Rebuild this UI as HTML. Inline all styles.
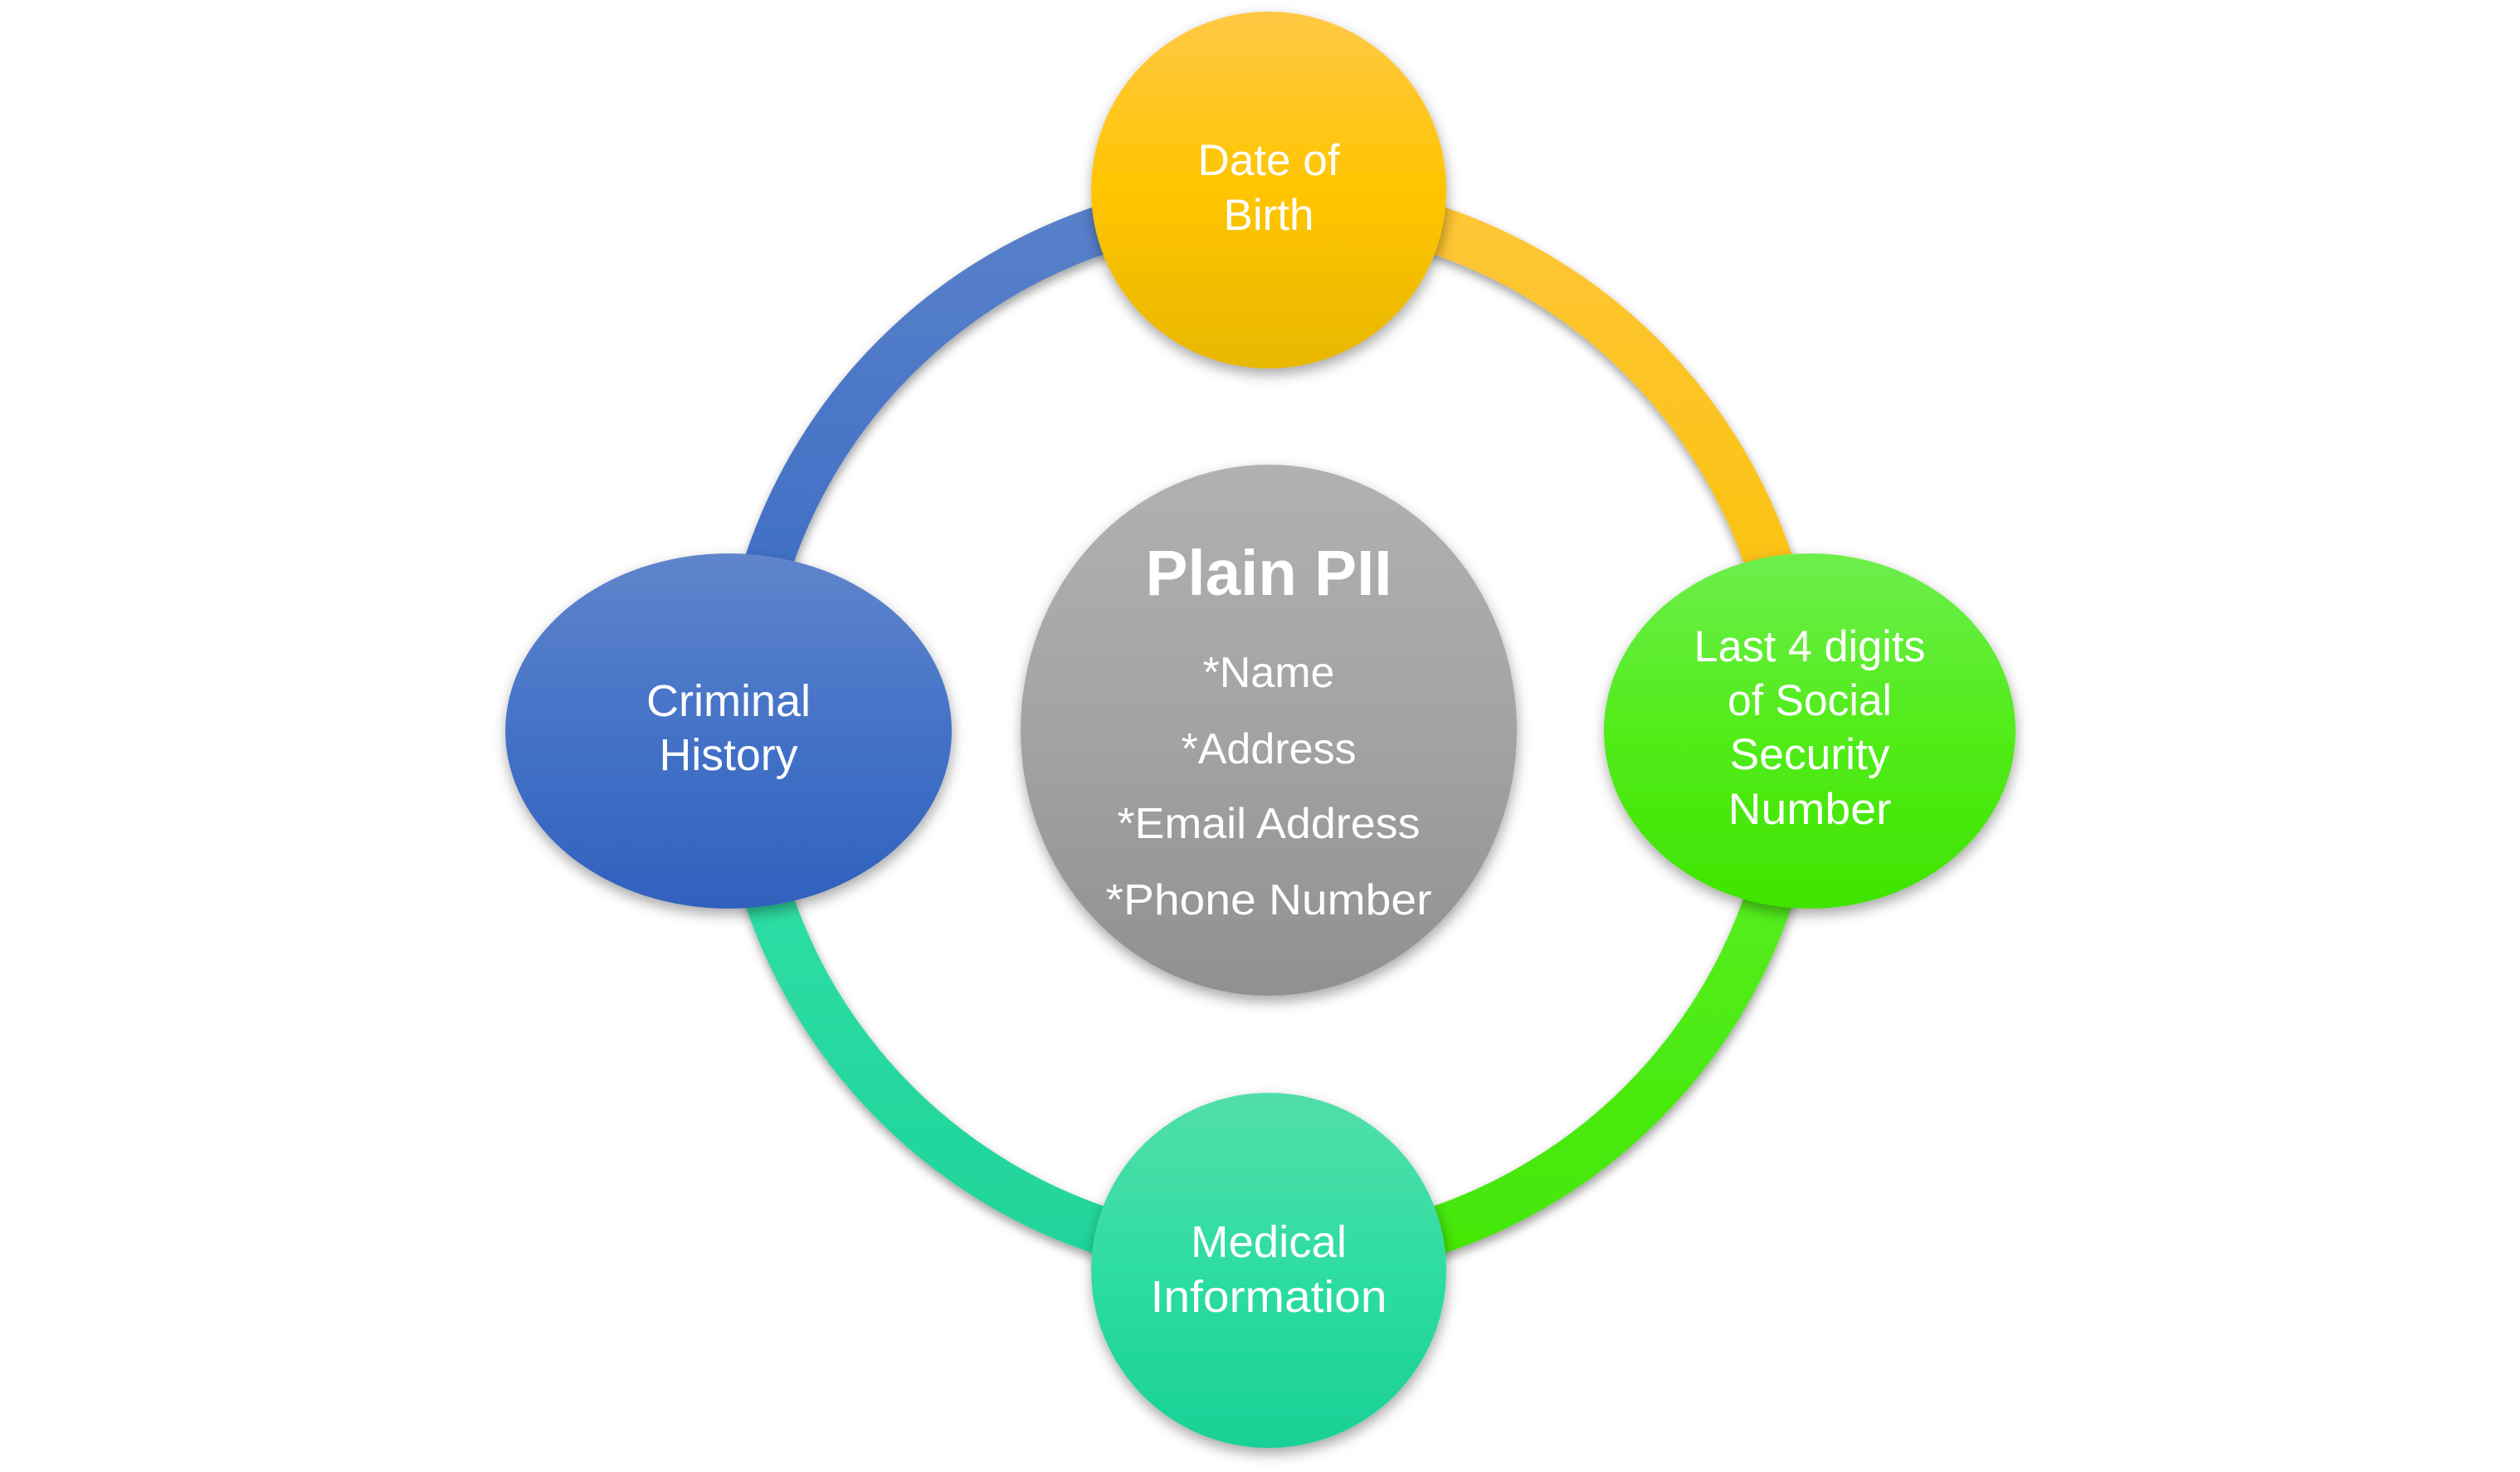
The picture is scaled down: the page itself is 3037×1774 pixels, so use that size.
<!DOCTYPE html>
<html>
<head>
<meta charset="utf-8">
<style>
  html, body { margin:0; padding:0; background:#ffffff; }
  body { width:3037px; height:1774px; overflow:hidden; }
  svg { display:block; }
  text { font-family: "Liberation Sans", Arial, sans-serif; fill:#ffffff; }
</style>
</head>
<body>
<svg width="3037" height="1774" viewBox="0 0 3037 1774" xmlns="http://www.w3.org/2000/svg">
  <defs>
    <filter id="sh" x="-20%" y="-20%" width="140%" height="140%">
      <feDropShadow dx="1" dy="6" stdDeviation="6" flood-color="#000000" flood-opacity="0.38"/>
    </filter>
    <filter id="shn" x="-20%" y="-20%" width="140%" height="140%">
      <feDropShadow dx="1" dy="7" stdDeviation="8" flood-color="#000000" flood-opacity="0.35"/>
    </filter>

    <!-- ring arc gradients -->
    <linearGradient id="gArcBlue" gradientUnits="userSpaceOnUse" x1="0" y1="215" x2="0" y2="880">
      <stop offset="0" stop-color="#5A82CA"/>
      <stop offset="1" stop-color="#3668C4"/>
    </linearGradient>
    <linearGradient id="gArcOrange" gradientUnits="userSpaceOnUse" x1="0" y1="215" x2="0" y2="880">
      <stop offset="0" stop-color="#FFC63A"/>
      <stop offset="1" stop-color="#F9C100"/>
    </linearGradient>
    <linearGradient id="gArcGreen" gradientUnits="userSpaceOnUse" x1="0" y1="880" x2="0" y2="1545">
      <stop offset="0" stop-color="#5CF02A"/>
      <stop offset="1" stop-color="#42E703"/>
    </linearGradient>
    <linearGradient id="gArcTeal" gradientUnits="userSpaceOnUse" x1="0" y1="880" x2="0" y2="1545">
      <stop offset="0" stop-color="#34E0A8"/>
      <stop offset="1" stop-color="#1ED49A"/>
    </linearGradient>

    <!-- node gradients -->
    <linearGradient id="gTop" x1="0" y1="0" x2="0" y2="1">
      <stop offset="0" stop-color="#FFC845"/>
      <stop offset="0.5" stop-color="#FFC500"/>
      <stop offset="1" stop-color="#E8B700"/>
    </linearGradient>
    <linearGradient id="gLeft" x1="0" y1="0" x2="0" y2="1">
      <stop offset="0" stop-color="#5F85CB"/>
      <stop offset="0.5" stop-color="#4472C7"/>
      <stop offset="1" stop-color="#2F61BD"/>
    </linearGradient>
    <linearGradient id="gRight" x1="0" y1="0" x2="0" y2="1">
      <stop offset="0" stop-color="#6DEE4C"/>
      <stop offset="0.5" stop-color="#52EC1A"/>
      <stop offset="1" stop-color="#3FE400"/>
    </linearGradient>
    <linearGradient id="gBottom" x1="0" y1="0" x2="0" y2="1">
      <stop offset="0" stop-color="#52DEA9"/>
      <stop offset="0.5" stop-color="#2EDDA2"/>
      <stop offset="1" stop-color="#19D095"/>
    </linearGradient>
    <linearGradient id="gCenter" x1="0" y1="0" x2="0" y2="1">
      <stop offset="0" stop-color="#B1B1B1"/>
      <stop offset="0.5" stop-color="#A3A3A3"/>
      <stop offset="1" stop-color="#909090"/>
    </linearGradient>
  </defs>

  <rect x="0" y="0" width="3037" height="1774" fill="#ffffff"/>

  <!-- Ring arcs: center (1529,880), R=636, width 58 -->
  <g fill="none" stroke-width="58" stroke-linecap="butt" filter="url(#sh)">
    <path d="M 893 880 A 636 636 0 0 1 1529 244" stroke="url(#gArcBlue)"/>
    <path d="M 1529 244 A 636 636 0 0 1 2165 880" stroke="url(#gArcOrange)"/>
    <path d="M 2165 880 A 636 636 0 0 1 1529 1516" stroke="url(#gArcGreen)"/>
    <path d="M 1529 1516 A 636 636 0 0 1 893 880" stroke="url(#gArcTeal)"/>
  </g>

  <!-- Center circle -->
  <ellipse cx="1529" cy="880" rx="299" ry="320" fill="url(#gCenter)" filter="url(#shn)"/>

  <!-- Nodes -->
  <ellipse cx="1529" cy="229" rx="214" ry="215" fill="url(#gTop)" filter="url(#shn)"/>
  <ellipse cx="878" cy="881" rx="269" ry="214" fill="url(#gLeft)" filter="url(#shn)"/>
  <ellipse cx="2181" cy="881" rx="248" ry="214" fill="url(#gRight)" filter="url(#shn)"/>
  <ellipse cx="1529" cy="1531" rx="214" ry="214" fill="url(#gBottom)" filter="url(#shn)"/>

  <!-- Top node text -->
  <g text-anchor="middle" font-size="53">
    <text x="1529" y="211">Date of</text>
    <text x="1529" y="277">Birth</text>
  </g>

  <!-- Left node text -->
  <g text-anchor="middle" font-size="54">
    <text x="878" y="863" textLength="198" lengthAdjust="spacingAndGlyphs">Criminal</text>
    <text x="878" y="928" textLength="167" lengthAdjust="spacingAndGlyphs">History</text>
  </g>

  <!-- Right node text -->
  <g text-anchor="middle" font-size="53">
    <text x="2181" y="797" textLength="279" lengthAdjust="spacingAndGlyphs">Last 4 digits</text>
    <text x="2181" y="862" textLength="198" lengthAdjust="spacingAndGlyphs">of Social</text>
    <text x="2181" y="927" textLength="193" lengthAdjust="spacingAndGlyphs">Security</text>
    <text x="2181" y="993" textLength="197" lengthAdjust="spacingAndGlyphs">Number</text>
  </g>

  <!-- Bottom node text -->
  <g text-anchor="middle" font-size="54">
    <text x="1529" y="1515" textLength="188" lengthAdjust="spacingAndGlyphs">Medical</text>
    <text x="1529" y="1581" textLength="285" lengthAdjust="spacingAndGlyphs">Information</text>
  </g>

  <!-- Center text -->
  <g text-anchor="middle">
    <text x="1529" y="717" font-size="77" font-weight="bold" textLength="297" lengthAdjust="spacingAndGlyphs">Plain PII</text>
    <text x="1529" y="828" font-size="52">*Name</text>
    <text x="1529" y="920" font-size="52">*Address</text>
    <text x="1529" y="1010" font-size="52" textLength="365" lengthAdjust="spacingAndGlyphs">*Email Address</text>
    <text x="1529" y="1102" font-size="52" textLength="393" lengthAdjust="spacingAndGlyphs">*Phone Number</text>
  </g>
</svg>
</body>
</html>
